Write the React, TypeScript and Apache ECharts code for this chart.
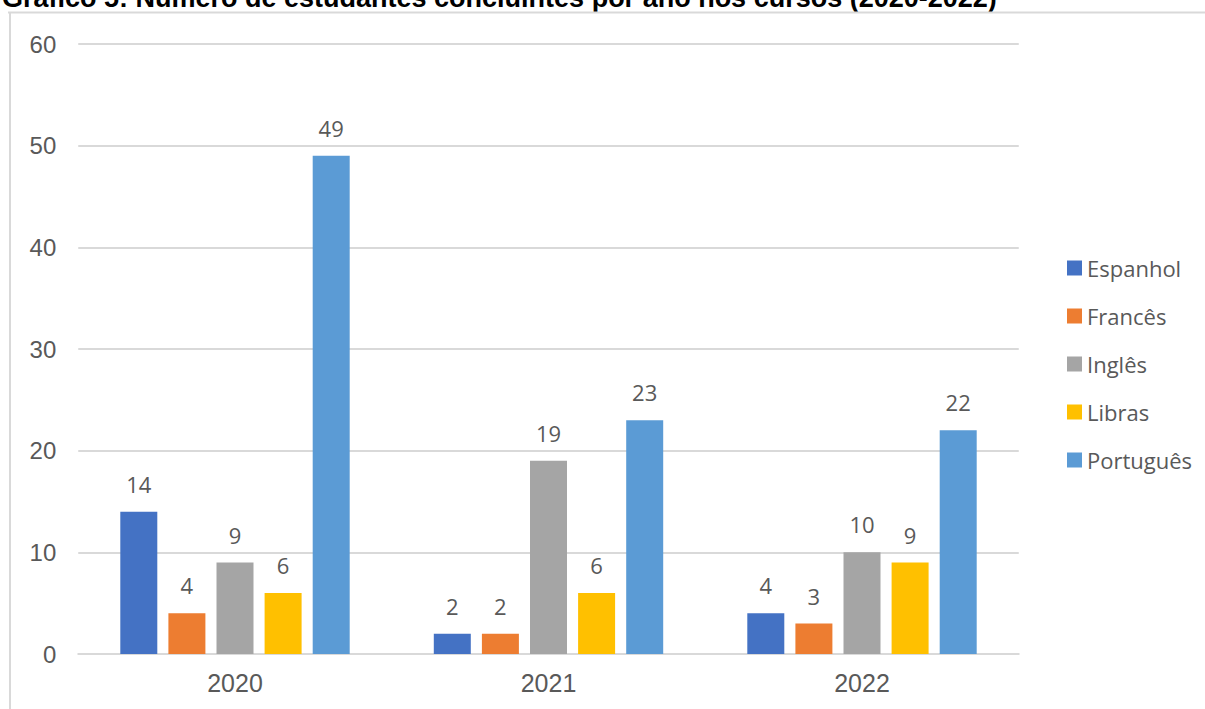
import React, { useEffect, useRef } from "react";
import * as echarts from "echarts";

const titleText = "Gráfico 5: Número de estudantes concluintes por ano nos cursos (2020-2022)";
const categories = ["2020", "2021", "2022"];
const seriesNames = ["Espanhol", "Francês", "Inglês", "Libras", "Português"];
const espanhol = [14, 2, 4];
const frances = [4, 2, 3];
const ingles = [9, 19, 10];
const libras = [6, 6, 9];
const portugues = [49, 23, 22];
const colors = ["#4472C4", "#ED7D31", "#A5A5A5", "#FFC000", "#5B9BD5"];
const yTicks = { min: 0, max: 60, interval: 10 };

export default function App() {
  const ref = useRef<HTMLDivElement>(null);
  useEffect(() => {
    if (!ref.current) return;
    const chart = echarts.init(ref.current, undefined, { renderer: "svg" });
    const values = [espanhol, frances, ingles, libras, portugues];
    chart.setOption({
      animation: false,
      backgroundColor: "#ffffff",
      color: colors,
      graphic: [
        {
          type: "text",
          x: 2,
          y: -2,
          style: {
            text: titleText,
            font: "bold 27px 'Liberation Sans', Arial, sans-serif",
            fill: "#000000",
            verticalAlign: "middle",
            align: "left",
          },
        },
        {
          type: "line",
          shape: { x1: 8, y1: 12.5, x2: 1205, y2: 12.5 },
          style: { stroke: "#D9D9D9", lineWidth: 2 },
        },
        {
          type: "line",
          shape: { x1: 10, y1: 12, x2: 10, y2: 709 },
          style: { stroke: "#D9D9D9", lineWidth: 2 },
        },
      ],
      grid: { left: 78.25, right: 186.25, top: 44, bottom: 55, containLabel: false },
      legend: {
        orient: "vertical",
        left: 1062,
        top: 252,
        icon: "rect",
        itemWidth: 15,
        itemHeight: 15,
        itemGap: 26,
        data: seriesNames,
        textStyle: {
          fontFamily: "'Open Sans', sans-serif",
          fontSize: 22,
          lineHeight: 22,
          color: "#595959",
        },
      },
      xAxis: {
        type: "category",
        data: categories,
        axisTick: { show: false },
        axisLine: { show: true, lineStyle: { color: "#D9D9D9", width: 2 } },
        axisLabel: {
          fontFamily: "'Liberation Sans', Arial, sans-serif",
          fontSize: 25,
          color: "#595959",
          margin: 16,
        },
      },
      yAxis: {
        type: "value",
        min: yTicks.min,
        max: yTicks.max,
        interval: yTicks.interval,
        axisLine: { show: false },
        axisTick: { show: false },
        splitLine: { lineStyle: { color: "#D9D9D9", width: 2 } },
        axisLabel: {
          fontFamily: "'Liberation Sans', Arial, sans-serif",
          fontSize: 24,
          color: "#595959",
          margin: 22,
        },
      },
      series: seriesNames.map((name, i) => ({
        name,
        type: "bar",
        data: values[i],
        barWidth: 37,
        barGap: "30%",
        itemStyle: { color: colors[i] },
        label: {
          show: true,
          position: "top",
          distance: 17,
          fontFamily: "'Open Sans', sans-serif",
          fontSize: 22,
          color: "#595959",
        },
      })),
    });
    return () => chart.dispose();
  }, []);
  return (
    <div
      ref={ref}
      style={{ position: "fixed", left: 0, top: 0, width: 1205, height: 709, background: "#fff" }}
    />
  );
}
